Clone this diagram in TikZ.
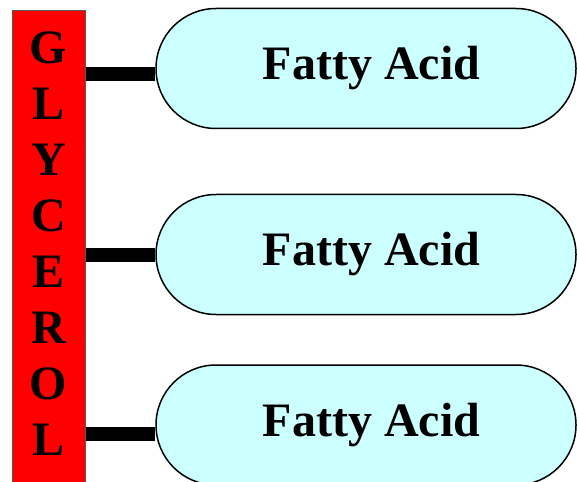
\documentclass[tikz,border=0pt]{standalone}
\usepackage{fontspec}
\setmainfont{Liberation Serif}
\usetikzlibrary{shapes.misc}
\definecolor{glyred}{HTML}{FF0000}
\definecolor{facyan}{HTML}{CCFFFF}
\tikzset{
  glybox/.style={draw=black!65, line width=1bp, fill=glyred, minimum width=73bp,
    minimum height=480bp, anchor=north west, inner sep=0pt},
  capsule/.style={rounded rectangle, draw=black, line width=1.5bp, fill=facyan,
    minimum width=420bp, minimum height=120bp, inner sep=0pt,
    font=\fontsize{48bp}{56bp}\selectfont\bfseries},
  conn/.style={line width=14bp, draw=black},
  letters/.style={align=center, inner sep=0pt, anchor=north,
    font=\fontsize{48bp}{55.9bp}\selectfont\bfseries}
}
\begin{document}
\begin{tikzpicture}[x=1bp, y=1bp]
\path[use as bounding box, clip] (0,0) rectangle (577,-482);
\node[glybox] (gly) at (12,-10) {};
\node[letters] (word) at (48.5,-32) {G\\L\\Y\\C\\E\\R\\O\\L};
\node[capsule] (fa1) at (366,-68.5) {\hspace*{11bp}Fatty Acid};
\node[capsule] (fa2) at (366,-254.5) {\hspace*{11bp}Fatty Acid};
\node[capsule] (fa3) at (366,-425) {\hspace*{11bp}Fatty Acid};
\draw[conn] ([yshift=-5.5bp]fa1.west) -- ([yshift=-5.5bp]fa1.west -| gly.east);
\draw[conn] (fa2.west) -- (fa2.west -| gly.east);
\draw[conn] ([yshift=-9bp]fa3.west) -- ([yshift=-9bp]fa3.west -| gly.east);
\end{tikzpicture}
\end{document}
